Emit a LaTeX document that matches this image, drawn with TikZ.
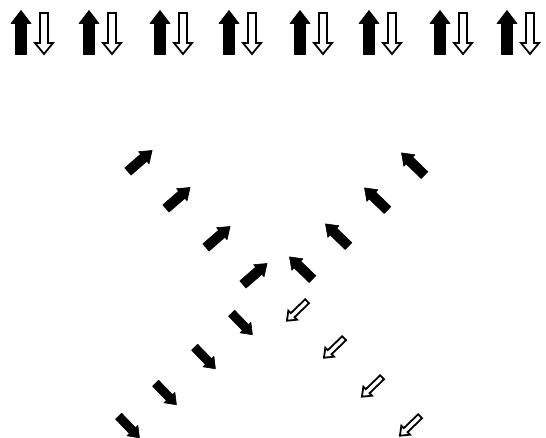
\documentclass[tikz,border=0pt]{standalone}
\begin{document}
\begin{tikzpicture}[x=1pt,y=1pt,
  solidarr/.style={fill=black,draw=black,line width=0.6pt,line join=round},
  hollowarr/.style={draw=black,fill=white,line width=1.8pt,line join=miter}]
\useasboundingbox (0,0) rectangle (546,438);
% generic arrow: centre (x,y) in image pixels, angle, length, shaft, head width, head length, style
\newcommand\myarrow[8]{%
  \begin{scope}[shift={(#1,438-#2)},rotate=#3]
    \path[#8] (-#4/2,-#5/2) -- (#4/2-#7,-#5/2) -- (#4/2-#7,-#6/2) -- (#4/2,0)
      -- (#4/2-#7,#6/2) -- (#4/2-#7,#5/2) -- (-#4/2,#5/2) -- cycle;
  \end{scope}}
% top row: pairs
\foreach \bx in {21,89,160,229,300,369,440,507}{
  \myarrow{\bx}{32.5}{90}{44}{11}{20}{13}{solidarr}
  \myarrow{\bx+23}{33.5}{-90}{41}{8}{18}{11}{hollowarr}
}
% NE black arrows
\foreach \cx/\cy in {140/161,178/198,218/237,255/274}{
  \myarrow{\cx}{\cy}{41}{32}{9.5}{16}{11}{solidarr}
}
% NW black arrows
\foreach \cx/\cy in {413/164,376/199,337/235,301/268}{
  \myarrow{\cx}{\cy}{136}{32}{9.5}{16}{11}{solidarr}
}
% SE black arrows
\foreach \cx/\cy in {242/324,205/358,166/394,129/427}{
  \myarrow{\cx}{\cy}{-46}{30}{8.5}{15}{10}{solidarr}
}
% SW hollow arrows
\foreach \cx/\cy in {297/311,334/348,372/387,410/426}{
  \myarrow{\cx}{\cy}{224}{28}{5.5}{12.5}{8}{hollowarr,line width=1.8pt}
}
\end{tikzpicture}
\end{document}
